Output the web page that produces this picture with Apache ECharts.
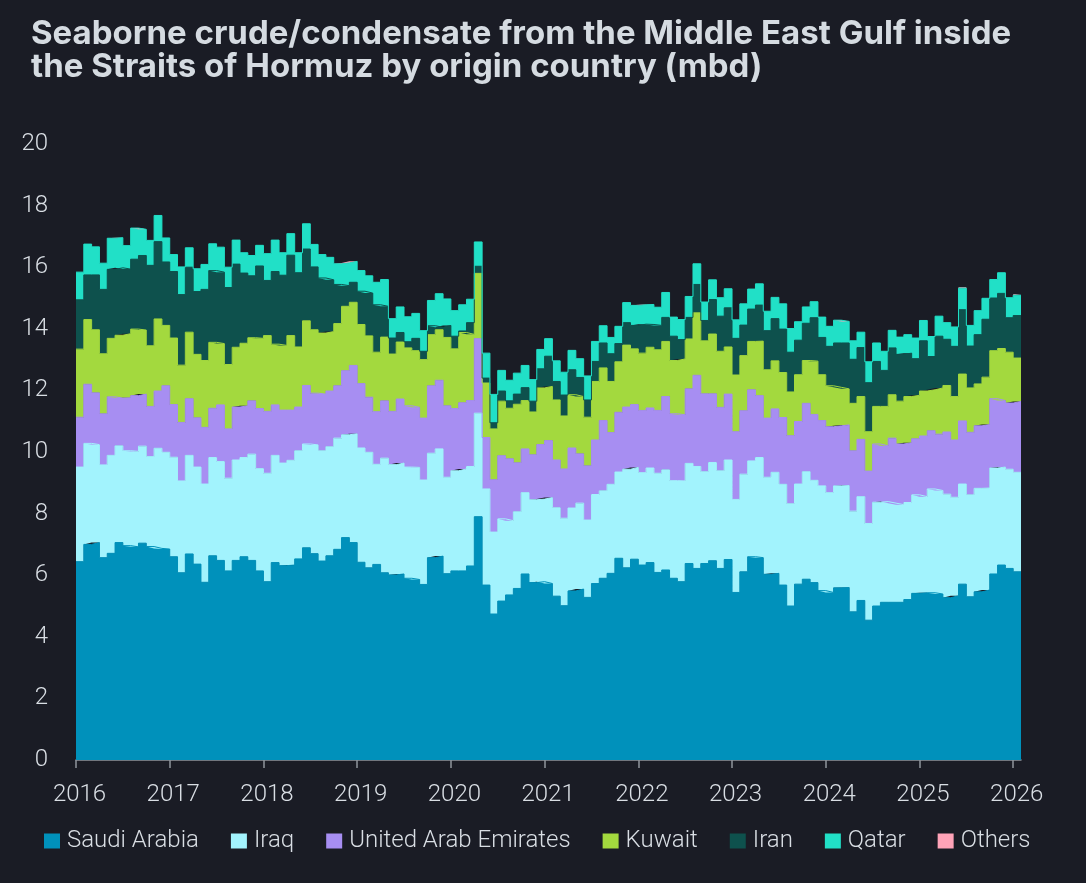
<!DOCTYPE html>
<html lang="en">
<head>
    <meta charset="UTF-8">
    <title>Middle East Gulf seaborne crude</title>
    <script src="https://cdn.jsdelivr.net/npm/echarts@6/dist/echarts.min.js"></script>
    <style>
        html, body { margin: 0; padding: 0; background: #1a1c25; }
        #chart { width: 1086px; height: 883px; }
    </style>
</head>
<body>
<div id="chart"></div>
<script type="text/javascript">
    // tick labels (years) and monthly categories, Jan 2016 .. Jan 2026
    var years = ['2016', '2017', '2018', '2019', '2020', '2021', '2022', '2023', '2024', '2025', '2026'];

    // mbd, one value per month
    var saudi = [
        6.44, 7.00, 7.06, 6.57, 6.71, 7.06, 6.96, 6.92, 7.04, 6.93,
        6.87, 6.85, 6.60, 6.08, 6.69, 6.36, 5.77, 6.63, 6.48, 6.14,
        6.48, 6.60, 6.48, 6.14, 5.79, 6.41, 6.31, 6.33, 6.53, 6.89,
        6.70, 6.46, 6.63, 6.84, 7.22, 7.06, 6.42, 6.24, 6.35, 6.08,
        6.01, 6.04, 5.90, 5.86, 5.70, 6.57, 6.62, 6.05, 6.14, 6.14,
        6.30, 7.90, 5.68, 4.74, 5.16, 5.36, 5.57, 6.04, 5.76, 5.79,
        5.73, 5.32, 5.01, 5.49, 5.55, 5.28, 5.73, 5.90, 6.06, 6.55,
        6.24, 6.52, 6.33, 6.41, 6.09, 6.17, 5.90, 5.79, 6.38, 6.22,
        6.38, 6.47, 6.22, 6.51, 5.44, 6.11, 6.60, 6.57, 6.03, 6.06,
        5.68, 5.00, 5.71, 5.87, 5.76, 5.50, 5.44, 5.59, 5.60, 4.81,
        5.18, 4.54, 5.00, 5.12, 5.12, 5.12, 5.21, 5.41, 5.43, 5.43,
        5.39, 5.27, 5.33, 5.71, 5.30, 5.46, 5.52, 6.04, 6.33, 6.22, 6.11
    ];
    var iraq = [
        3.07, 3.28, 3.18, 3.01, 3.18, 3.14, 3.08, 3.10, 3.15, 2.92,
        3.25, 3.14, 3.23, 2.98, 3.20, 3.15, 3.19, 3.19, 3.21, 3.01,
        3.26, 3.22, 3.45, 3.32, 3.52, 3.48, 3.33, 3.40, 3.51, 3.37,
        3.53, 3.58, 3.54, 3.61, 3.34, 3.53, 3.71, 3.75, 3.25, 3.72,
        3.58, 3.60, 3.61, 3.64, 3.39, 3.39, 3.48, 3.13, 3.25, 3.31,
        3.23, 3.36, 3.12, 2.66, 2.67, 2.41, 2.49, 2.64, 2.69, 2.68,
        2.79, 2.87, 2.84, 2.69, 2.79, 2.51, 2.89, 2.84, 2.89, 2.80,
        3.20, 2.98, 3.00, 3.07, 3.22, 3.25, 3.17, 3.27, 3.25, 3.31,
        2.98, 3.19, 3.17, 3.23, 3.02, 3.17, 3.11, 3.25, 3.15, 3.28,
        3.27, 3.32, 3.25, 3.49, 3.32, 3.40, 3.24, 3.31, 3.31, 3.27,
        3.37, 3.14, 3.37, 3.27, 3.22, 3.17, 3.15, 3.20, 3.12, 3.37,
        3.36, 3.36, 3.20, 3.25, 3.31, 3.36, 3.31, 3.44, 3.18, 3.22, 3.23
    ];
    var uae = [
        1.62, 1.92, 1.68, 1.66, 1.90, 1.55, 1.72, 1.81, 1.69, 1.63,
        1.86, 2.16, 1.71, 1.90, 1.84, 1.60, 1.84, 1.60, 1.84, 1.60,
        1.72, 1.68, 1.73, 1.95, 2.01, 1.64, 1.72, 1.63, 1.42, 1.90,
        1.68, 1.84, 1.81, 1.70, 2.08, 2.22, 2.09, 1.79, 1.71, 1.86,
        1.73, 2.08, 1.99, 1.95, 2.01, 2.19, 2.23, 2.32, 2.02, 2.15,
        2.14, 2.42, 1.67, 1.70, 2.05, 2.01, 1.59, 1.42, 1.46, 1.77,
        1.85, 1.55, 1.60, 1.95, 1.60, 1.76, 1.77, 2.28, 1.68, 1.94,
        2.02, 2.04, 2.02, 1.95, 2.04, 2.38, 2.17, 2.15, 2.42, 2.96,
        2.53, 2.23, 2.06, 2.14, 2.20, 2.06, 2.31, 2.01, 1.92, 2.06,
        2.17, 2.21, 2.03, 2.22, 2.14, 2.12, 2.14, 1.95, 1.97, 1.96,
        1.86, 1.70, 1.89, 1.81, 2.11, 1.97, 1.94, 1.82, 1.97, 1.89,
        1.83, 2.02, 1.86, 2.05, 2.03, 2.03, 2.06, 2.25, 2.16, 2.15, 2.30
    ];
    var kuwait = [
        2.21, 2.10, 2.05, 1.95, 1.90, 2.04, 2.08, 2.16, 2.08, 1.97,
        2.34, 1.96, 2.16, 1.86, 2.16, 2.06, 2.17, 2.14, 1.99, 2.09,
        1.94, 2.03, 2.05, 2.28, 2.46, 1.97, 2.10, 2.42, 1.95, 2.10,
        2.06, 1.98, 1.93, 2.02, 2.09, 2.05, 1.92, 1.99, 1.93, 2.07,
        1.86, 1.85, 1.88, 1.84, 1.90, 1.66, 1.64, 2.22, 1.94, 2.28,
        2.15, 2.12, 1.77, 1.65, 1.77, 1.64, 1.90, 1.57, 1.39, 1.84,
        1.76, 1.95, 1.72, 1.73, 1.86, 1.58, 1.90, 1.71, 1.66, 1.64,
        2.01, 1.81, 1.86, 1.97, 1.97, 1.79, 1.73, 1.81, 1.62, 2.03,
        1.72, 1.94, 1.82, 1.53, 1.84, 1.79, 1.57, 1.77, 1.57, 1.56,
        1.46, 1.42, 1.52, 1.39, 1.73, 1.49, 1.33, 1.25, 1.17, 1.54,
        1.39, 1.28, 1.22, 1.28, 1.41, 1.39, 1.50, 1.41, 1.46, 1.33,
        1.50, 1.51, 1.41, 1.52, 1.44, 1.36, 1.54, 1.56, 1.69, 1.65, 1.41
    ];
    var iran = [
        1.60, 1.45, 1.78, 2.09, 2.24, 2.19, 2.10, 2.27, 2.42, 2.61,
        2.51, 2.06, 2.16, 2.29, 2.11, 2.04, 2.31, 2.33, 2.32, 2.50,
        2.70, 2.28, 2.01, 2.35, 1.79, 2.36, 2.28, 2.61, 2.41, 2.33,
        2.04, 1.79, 1.68, 1.27, 0.67, 0.65, 1.08, 1.39, 1.54, 1.00,
        0.52, 0.31, 0.20, 0.40, 0.27, 0.29, 0.08, 0.39, 0.41, 0.05,
        0.38, 0.23, 0.16, 0.20, 0.33, 0.24, 0.33, 0.42, 0.35, 0.62,
        0.98, 0.60, 0.68, 0.81, 0.62, 0.56, 0.65, 0.81, 0.90, 0.59,
        0.73, 0.76, 0.94, 0.74, 0.79, 0.78, 0.79, 0.63, 0.70, 0.92,
        0.66, 1.12, 1.14, 1.27, 1.19, 0.99, 1.05, 1.17, 1.27, 1.37,
        1.41, 1.29, 1.12, 1.21, 1.41, 1.21, 1.28, 1.44, 1.49, 1.43,
        1.59, 1.59, 1.46, 1.17, 1.52, 1.52, 1.41, 1.19, 1.63, 1.08,
        1.68, 1.50, 1.63, 2.09, 1.36, 1.60, 1.88, 1.71, 1.79, 1.12, 1.38
    ];
    var qatar = [
        0.90, 1.00, 0.91, 0.85, 1.01, 0.98, 0.76, 1.01, 0.85, 0.81,
        0.85, 0.78, 0.55, 0.90, 0.63, 0.74, 0.81, 0.87, 0.81, 0.66,
        0.78, 0.66, 0.66, 0.67, 0.87, 1.02, 0.73, 0.70, 0.65, 0.82,
        0.73, 0.76, 0.73, 0.67, 0.74, 0.68, 0.67, 0.56, 0.73, 0.87,
        0.63, 0.83, 0.81, 0.81, 0.67, 0.82, 1.09, 0.86, 0.83, 0.85,
        0.76, 0.79, 0.81, 0.92, 0.67, 0.67, 0.68, 0.72, 0.70, 0.63,
        0.57, 0.67, 0.74, 0.63, 0.61, 0.78, 0.65, 0.56, 0.53, 0.56,
        0.65, 0.65, 0.63, 0.65, 0.59, 0.81, 0.62, 0.65, 0.68, 0.67,
        0.60, 0.64, 0.60, 0.62, 0.60, 0.69, 0.65, 0.69, 0.63, 0.69,
        0.82, 0.77, 0.60, 0.53, 0.52, 0.66, 0.65, 0.74, 0.70, 0.60,
        0.50, 0.68, 0.60, 0.62, 0.57, 0.56, 0.60, 0.67, 0.66, 0.65,
        0.65, 0.54, 0.63, 0.70, 0.67, 0.78, 0.68, 0.60, 0.67, 0.65, 0.66
    ];
    var others = [
        0, 0, 0, 0, 0, 0, 0, 0, 0, 0,
        0, 0, 0, 0, 0, 0, 0, 0, 0, 0,
        0, 0, 0, 0, 0, 0, 0, 0, 0, 0,
        0, 0, 0, 0, 0, 0, 0, 0, 0, 0,
        0, 0, 0, 0, 0, 0, 0, 0, 0, 0,
        0, 0, 0, 0, 0, 0, 0, 0, 0, 0,
        0, 0, 0, 0, 0, 0, 0, 0, 0, 0,
        0, 0, 0, 0, 0, 0, 0, 0, 0, 0,
        0, 0, 0, 0, 0, 0, 0, 0, 0, 0,
        0, 0, 0, 0, 0, 0, 0, 0, 0, 0,
        0, 0, 0, 0, 0, 0, 0, 0, 0, 0,
        0, 0, 0, 0.03, 0, 0, 0, 0, 0, 0, 0.03
    ];

    // month categories, plus one closing point so the last step gets its width
    var months = [];
    for (var i = 0; i <= saudi.length; i++) {
        var m = i % 12 + 1;
        months.push(years[Math.floor(i / 12)] + '-' + (m < 10 ? '0' + m : m));
    }

    var textColor = '#d9dee4';
    var labelFont = {
        color: textColor,
        fontFamily: 'Roboto',
        fontWeight: 300,
        fontSize: 24
    };

    function stepSeries(name, values, color, lineWidth) {
        return {
            name: name,
            type: 'line',
            stack: 'total',
            step: 'end',
            symbol: 'none',
            data: values.concat([values[values.length - 1]]),
            itemStyle: { color: color },
            lineStyle: { width: lineWidth, color: color },
            areaStyle: { color: color, opacity: 1 },
            emphasis: { disabled: true }
        };
    }

    var chart = echarts.init(document.getElementById('chart'));

    var option = {
        backgroundColor: '#1a1c25',
        animation: false,
        title: {
            text: 'Seaborne crude/condensate from the Middle East Gulf inside\nthe Straits of Hormuz by origin country (mbd)',
            left: 26,
            top: 13,
            textStyle: {
                color: '#d5dbe1',
                fontFamily: 'Inter',
                fontWeight: 700,
                fontSize: 33,
                lineHeight: 33
            }
        },
        legend: {
            left: 39,
            top: 824,
            icon: 'rect',
            itemWidth: 16,
            itemHeight: 15,
            itemGap: 32,
            textStyle: Object.assign({ padding: [0, 0, 0, 2] }, labelFont),
            data: ['Saudi Arabia', 'Iraq', 'United Arab Emirates', 'Kuwait', 'Iran', 'Qatar', 'Others']
        },
        grid: {
            left: 76,
            right: 65,
            top: 144,
            bottom: 123
        },
        xAxis: {
            type: 'category',
            boundaryGap: false,
            data: months,
            axisLine: { lineStyle: { color: '#8f949c', width: 1.5 } },
            axisTick: {
                length: 8,
                interval: function (index) { return index % 12 === 0; },
                lineStyle: { color: '#8f949c', width: 1.5 }
            },
            axisLabel: Object.assign({
                interval: function (index) { return index % 12 === 0; },
                formatter: function (v) { return v.slice(0, 4); },
                margin: 23,
                padding: [0, 0, 0, 7]
            }, labelFont),
            splitLine: { show: false }
        },
        yAxis: {
            type: 'value',
            min: 0,
            max: 20,
            interval: 2,
            axisLine: { show: false },
            axisTick: { show: false },
            splitLine: { show: false },
            axisLabel: Object.assign({ margin: 28 }, labelFont)
        },
        series: [
            stepSeries('Saudi Arabia', saudi, '#0091bb', 1),
            stepSeries('Iraq', iraq, '#a2f3fd', 1),
            stepSeries('United Arab Emirates', uae, '#a78ef2', 1),
            stepSeries('Kuwait', kuwait, '#a3d93e', 1),
            stepSeries('Iran', iran, '#0e514d', 1),
            stepSeries('Qatar', qatar, '#21e0c7', 1),
            stepSeries('Others', others, '#ffa3b8', 0)
        ]
    };

    chart.setOption(option);
</script>
</body>
</html>
